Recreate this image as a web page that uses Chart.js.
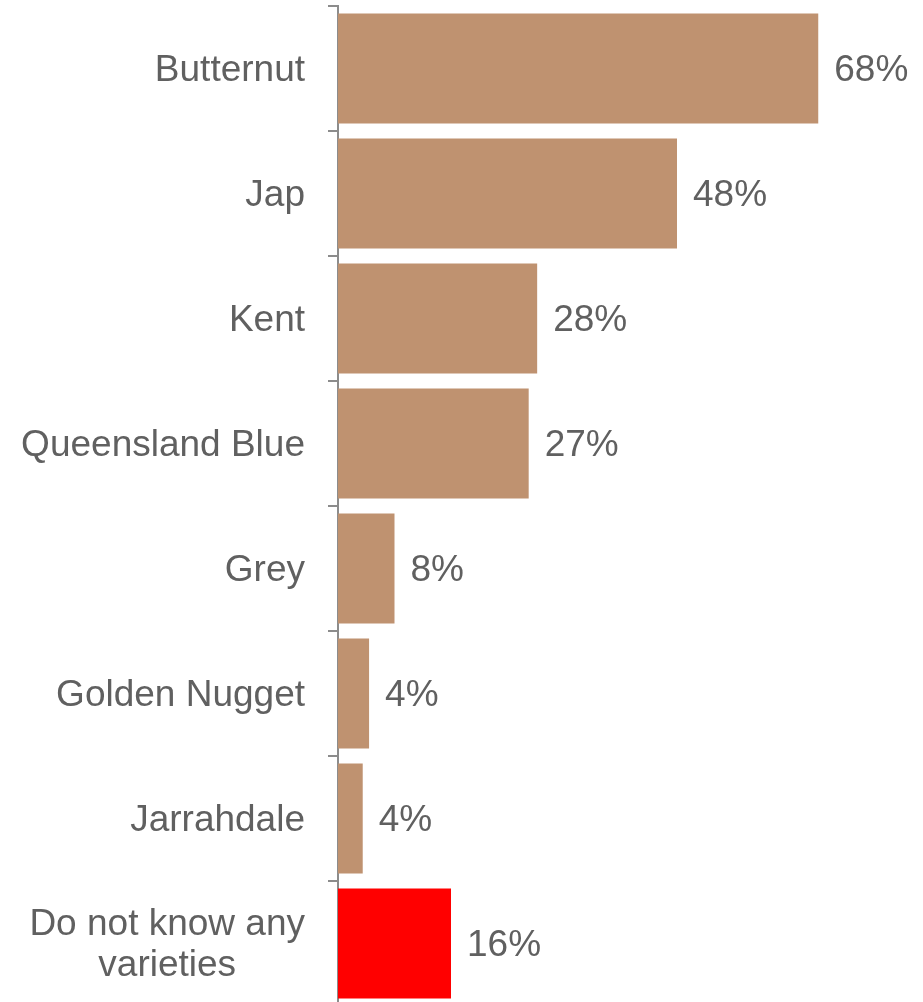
<!DOCTYPE html>
<html lang="en">
<head>
  <meta charset="UTF-8">
  <title>Pumpkin varieties known</title>
  <script src="https://cdn.jsdelivr.net/npm/chart.js"></script>
  <style>
    * {
      margin: 0;
      padding: 0;
      box-sizing: border-box;
    }

    body {
      background-color: #fff;
      overflow: hidden;
    }

    .chart-container {
      position: relative;
      width: 923px;
      height: 1010px;
    }
  </style>
</head>
<body>
  <div class="chart-container">
    <canvas id="varietyChart"></canvas>
  </div>

  <script>
    const varieties = ['Butternut', 'Jap', 'Kent', 'Queensland Blue', 'Grey', 'Golden Nugget', 'Jarrahdale', ['Do not know any', 'varieties']];
    const shares = [68, 48, 28.2, 27, 8, 4.4, 3.5, 16];
    const barColors = ['#bf9270', '#bf9270', '#bf9270', '#bf9270', '#bf9270', '#bf9270', '#bf9270', '#ff0000'];

    const textColor = '#606060';
    const axisColor = '#8c8c8c';
    const fontFamily = 'Arial, "Liberation Sans", sans-serif';
    const fontSize = 37;

    // category names, multi-line ones centred as a block against the axis
    const categoryLabels = {
      id: 'categoryLabels',
      afterDraw(chart) {
        const ctx = chart.ctx;
        const yScale = chart.scales.y;
        const right = yScale.right - 33;
        ctx.save();
        ctx.font = fontSize + 'px ' + fontFamily;
        ctx.fillStyle = textColor;
        ctx.textAlign = 'center';
        ctx.textBaseline = 'middle';
        varieties.forEach((label, i) => {
          const lines = Array.isArray(label) ? label : [label];
          const widest = Math.max(...lines.map(l => ctx.measureText(l).width));
          const cx = right - widest / 2;
          const lineHeight = 41;
          const y0 = yScale.getPixelForValue(i) + 2 - (lines.length - 1) * lineHeight / 2;
          lines.forEach((line, j) => ctx.fillText(line, cx, y0 + j * lineHeight));
        });
        ctx.restore();
      }
    };

    // percentage printed just past the end of each bar
    const valueLabels = {
      id: 'valueLabels',
      afterDatasetsDraw(chart) {
        const ctx = chart.ctx;
        const meta = chart.getDatasetMeta(0);
        ctx.save();
        ctx.font = fontSize + 'px ' + fontFamily;
        ctx.fillStyle = textColor;
        ctx.textAlign = 'left';
        ctx.textBaseline = 'middle';
        meta.data.forEach((bar, i) => {
          ctx.fillText(Math.round(shares[i]) + '%', bar.x + 16, bar.y + 2);
        });
        ctx.restore();
      }
    };

    new Chart(document.getElementById('varietyChart'), {
      type: 'bar',
      data: {
        labels: varieties,
        datasets: [{
          data: shares,
          backgroundColor: barColors,
          borderWidth: 0,
          barPercentage: 0.88,
          categoryPercentage: 1
        }]
      },
      options: {
        indexAxis: 'y',
        responsive: true,
        maintainAspectRatio: false,
        animation: false,
        layout: {
          padding: { top: 6, bottom: 4, right: 20, left: 0 }
        },
        plugins: {
          legend: { display: false },
          tooltip: { enabled: false }
        },
        scales: {
          x: {
            display: false,
            min: 0,
            max: 80
          },
          y: {
            offset: true,
            ticks: { display: false },
            grid: {
              display: true,
              offset: true,
              drawOnChartArea: false,
              drawTicks: true,
              tickLength: 10,
              color: axisColor,
              lineWidth: 2
            },
            border: {
              display: true,
              color: axisColor,
              width: 2
            },
            afterFit(scale) {
              scale.width = 338;
            }
          }
        }
      },
      plugins: [categoryLabels, valueLabels]
    });
  </script>
</body>
</html>
